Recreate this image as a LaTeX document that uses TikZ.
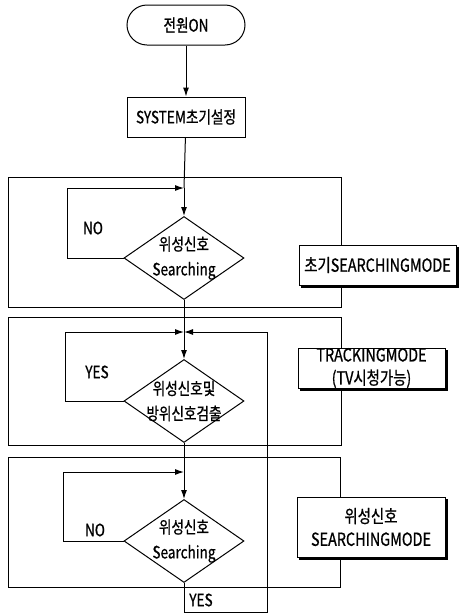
\documentclass[tikz,border=0pt]{standalone}
\usepackage{fontspec}
\setmainfont{Noto Sans CJK KR}[FakeStretch=0.8,FakeBold=0.8]
\usepackage{tikz}
\usetikzlibrary{arrows.meta,shapes.geometric,backgrounds}

\begin{document}
\begin{tikzpicture}[x=1pt, y=-1pt, line width=1pt, >={Latex[length=9pt,width=6pt]},
    every node/.style={font=\fontsize{17}{25}\selectfont, inner sep=0pt},
    box/.style={draw, minimum width=118pt, minimum height=40pt},
    dia/.style={draw, diamond, minimum width=120pt, minimum height=83pt},
    modebox/.style={draw, fill=white, align=center, font=\fontsize{18}{23}\selectfont},
    shade/.style={fill=black}]
            \useasboundingbox (0,0) rectangle (459,614);

            % Mode frames
            \draw (8,177) rectangle (341,307);
            \draw (8,317) rectangle (341,445);
            \draw (8,457) rectangle (340,587);

            % Start
            \node[box, rounded corners=20pt] (on) at (186,25) {전원ON};
            \node[box] (init) at (186,117) {SYSTEM초기설정};

            % Decisions
            \node[dia] (d1) at (184,258) {};
            \node[align=center] (t1) at (d1) {위성신호\\Searching};
            \node[dia] (d2) at (184,401) {};
            \node[align=center] (t2) at (d2) {위성신호및\\방위신호검출};
            \node[dia] (d3) at (184,541) {};
            \node[align=center] (t3) at (d3) {위성신호\\Searching};

            % Junctions
            \coordinate (j1) at (184,188);
            \coordinate (j2) at (184,332);
            \coordinate (j3) at (184,472);

            % Flow
            \draw[->] (on) -- (init);
            \draw (init) -- (j1);
            \draw[->] (j1) -- (d1.north);
            \draw[->] (d1.west) -- (67,258) |- (j1);
            \draw (d1.south) -- (j2);
            \draw[->] (j2) -- (d2.north);
            \draw[->] (d2.west) -- (65,401) |- (j2);
            \draw (d2.south) -- (j3);
            \draw[->] (j3) -- (d3.north);
            \draw[->] (d3.west) -- (63,541) |- (j3);
            \draw[->] (d3.south) -- (184,612) -| (267,332) -- (j2);

            % Labels
            \node (no1) at (93,228) {NO};
            \node (yes1) at (97,372) {YES};
            \node (no2) at (95,530) {NO};
            \node (yes2) at (201,600) {YES};

            % Modes
            \node[modebox, minimum width=157pt, minimum height=40pt] (m1) at (377.5,265) {초기SEARCHINGMODE};
            \node[modebox, minimum width=147pt, minimum height=40pt] (m2) at (371.5,368) {TRACKINGMODE\\(TV시청가능)};
            \node[modebox, minimum width=148pt, minimum height=60pt] (m3) at (371,527) {위성신호\\SEARCHINGMODE};

            % Shadows
            \begin{scope}[on background layer]
              \foreach \m in {m1,m2,m3}
                \fill[shade] ([xshift=2pt,yshift=-2pt]\m.south west) rectangle ([xshift=2pt,yshift=-2pt]\m.north east);
            \end{scope}

        \end{tikzpicture}
\end{document}
